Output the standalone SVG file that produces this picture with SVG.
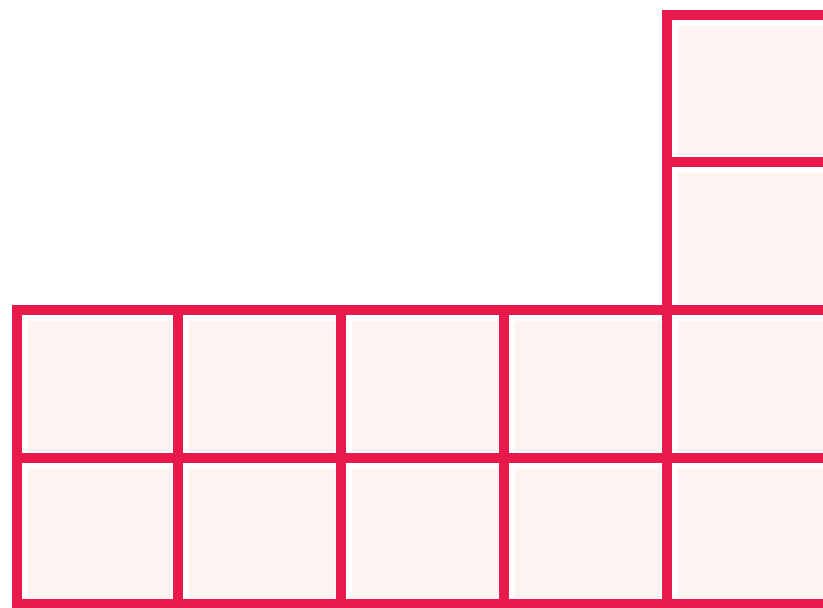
<svg xmlns="http://www.w3.org/2000/svg" width="823" height="608" viewBox="0 0 823 608">
<style>
.cell{fill:#fdf3f1;stroke:#ffffff;stroke-width:2}
.grid{fill:none;stroke:#e81a4b;stroke-width:10;stroke-linecap:square}
</style>
<rect width="823" height="608" fill="#ffffff"/>
<g id="cells">
<g id="c-top1"><rect class="cell" x="677" y="25" width="150" height="132"/></g>
<g id="c-top2"><rect class="cell" x="677" y="172" width="150" height="133"/></g>
<g id="c-r1-1"><rect class="cell" x="27" y="320" width="146" height="133"/></g>
<g id="c-r1-2"><rect class="cell" x="188" y="320" width="148" height="133"/></g>
<g id="c-r1-3"><rect class="cell" x="351" y="320" width="148" height="133"/></g>
<g id="c-r1-4"><rect class="cell" x="514" y="320" width="148" height="133"/></g>
<g id="c-r1-5"><rect class="cell" x="677" y="320" width="150" height="133"/></g>
<g id="c-r2-1"><rect class="cell" x="27" y="468" width="146" height="131"/></g>
<g id="c-r2-2"><rect class="cell" x="188" y="468" width="148" height="131"/></g>
<g id="c-r2-3"><rect class="cell" x="351" y="468" width="148" height="131"/></g>
<g id="c-r2-4"><rect class="cell" x="514" y="468" width="148" height="131"/></g>
<g id="c-r2-5"><rect class="cell" x="677" y="468" width="150" height="131"/></g>
</g>
<g id="grid">
<path class="grid" d="M830 15 H667 V604 M830 162 H667 M17 310 H830 M17 458 H830 M17 604 H830 M17 310 V604 M178 310 V604 M341 310 V604 M504 310 V604"/>
</g>
</svg>
